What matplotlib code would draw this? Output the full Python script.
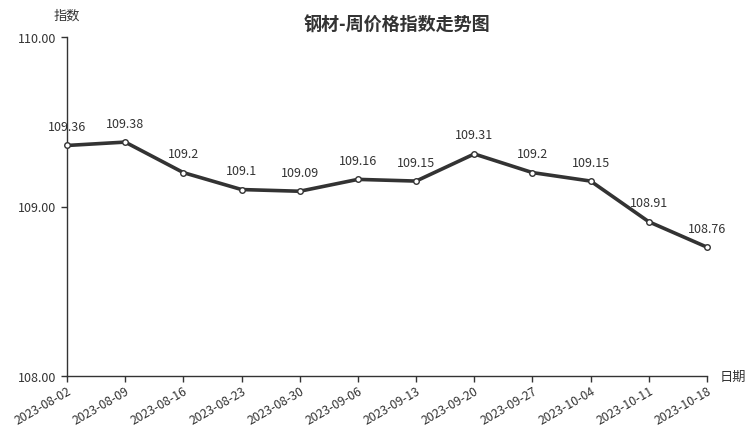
import matplotlib.pyplot as plt

plt.rcParams['font.family'] = ['Noto Sans CJK SC', 'DejaVu Sans']

dates = ['2023-08-02', '2023-08-09', '2023-08-16', '2023-08-23', '2023-08-30', '2023-09-06',
         '2023-09-13', '2023-09-20', '2023-09-27', '2023-10-04', '2023-10-11', '2023-10-18']
values = [109.36, 109.38, 109.2, 109.1, 109.09, 109.16, 109.15, 109.31, 109.2, 109.15, 108.91, 108.76]
labels = ['109.36', '109.38', '109.2', '109.1', '109.09', '109.16', '109.15', '109.31', '109.2', '109.15',
          '108.91', '108.76']
y_ticks = [108.0, 109.0, 110.0]

fig = plt.figure(figsize=(7.52, 4.27), dpi=100)
ax = fig.add_axes([67 / 752, 1 - 377 / 427, 640 / 752, 339 / 427])

x = list(range(len(dates)))
ax.plot(x, values, color='#333333', linewidth=2.6, marker='o', markersize=4,
        markerfacecolor='white', markeredgecolor='#333333', markeredgewidth=1, zorder=3, clip_on=False)

for xi, v, lab in zip(x, values, labels):
    ax.annotate(lab, xy=(xi, v), xytext=(0, 9), textcoords='offset points',
                ha='center', va='bottom', fontsize=9, color='#333333')

ax.set_xlim(0, len(dates) - 1)
ax.set_ylim(108, 110)
ax.set_xticks(x)
ax.set_xticklabels(dates, rotation=30, ha='right', rotation_mode='anchor', fontsize=8.8, color='#333333')
ax.set_yticks(y_ticks)
ax.set_yticklabels(['%.2f' % t for t in y_ticks], fontsize=9, color='#333333')
ax.tick_params(axis='x', pad=1.5)
ax.tick_params(axis='both', length=4, width=1, color='#333333')

for s in ['top', 'right']:
    ax.spines[s].set_visible(False)
for s in ['left', 'bottom']:
    ax.spines[s].set_color('#333333')
    ax.spines[s].set_linewidth(1)

fig.text(67 / 752, 1 - 16 / 427, '指数', ha='center', va='center', fontsize=9.5, color='#333333')
fig.text(733 / 752, 1 - 377 / 427, '日期', ha='center', va='center', fontsize=9.5, color='#333333')
fig.text(397 / 752, 1 - 25 / 427, '钢材-周价格指数走势图', ha='center', va='center', fontsize=13,
         fontweight='bold', color='#333333')

fig.savefig('out.png', dpi=100)
